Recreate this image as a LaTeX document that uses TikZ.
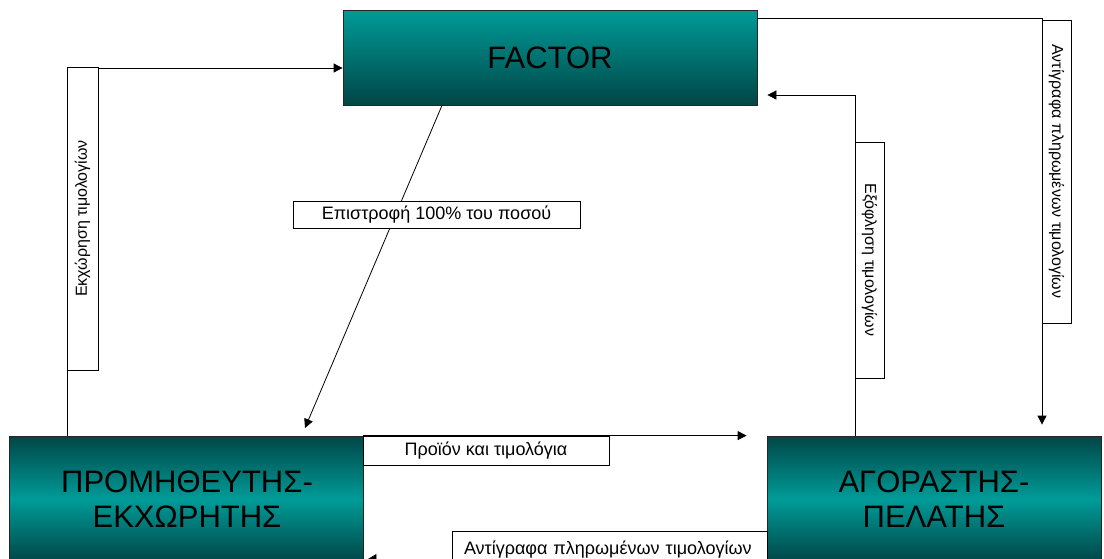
\documentclass[tikz,border=0pt]{standalone}
\usepackage{fontspec}
\setmainfont{Liberation Sans}
\usetikzlibrary{arrows.meta}
\definecolor{tealhi}{RGB}{0,155,152}
\definecolor{teallo}{RGB}{0,70,70}
\begin{document}
\begin{tikzpicture}[x=1pt,y=-1pt,
  party/.style={draw=black!85, line width=0.8pt, inner sep=0pt},
  bigtext/.style={font=\fontsize{31}{35}\selectfont, inner sep=0pt},
  lbl/.style={draw, fill=white, line width=0.6pt, inner sep=0pt,
    font=\fontsize{18}{21}\selectfont},
  vlbl/.style={lbl, font=\fontsize{16}{19}\selectfont},
  arr/.style={-{Triangle[length=9pt,width=9pt]}, line width=0.8pt},
]
\useasboundingbox (0,0) rectangle (1104,558);

% the three parties
\node[party, top color=tealhi, bottom color=teallo,
  minimum width=414pt, minimum height=95pt,
  font=\fontsize{31}{35}\selectfont] (factor) at (550,57.5) {FACTOR};
\node[party, top color=teallo, bottom color=teallo, middle color=tealhi,
  minimum width=354pt, minimum height=126pt] (sup) at (186,499) {};
\node[party, top color=teallo, bottom color=teallo, middle color=tealhi,
  minimum width=334pt, minimum height=126pt] (buy) at (934,499) {};
\node[bigtext, anchor=base] (supA) at (187,492) {ΠΡΟΜΗΘΕΥΤΗΣ-};
\node[bigtext, anchor=base] (supB) at (187,527) {ΕΚΧΩΡΗΤΗΣ};
\node[bigtext, anchor=base] (buyA) at (934,492) {ΑΓΟΡΑΣΤΗΣ-};
\node[bigtext, anchor=base] (buyB) at (934,527) {ΠΕΛΑΤΗΣ};

% bend points of the flows
\coordinate (c1) at (67,68);
\coordinate (c2) at (1042,18);
\coordinate (c3) at (855,95);
\coordinate (d0) at (442,105);
\coordinate (d1) at (305,428);
\coordinate (e)  at (0,560);

% flows
\draw[arr] (sup.north -| c1) -- (c1) -- (factor.west |- c1);
\draw[arr, shorten >=11pt] (factor.east |- c2) -- (c2) -- (buy.north -| c2);
\draw[arr, shorten >=10pt] (buy.north -| c3) -- (c3) -- (factor.east |- c3);
\draw[arr] (factor.south -| d0) -- (d1);
\draw[arr, shorten >=20pt] (sup.north east) -- (buy.north west);
\draw[-{Triangle[length=10pt,width=12pt]}, line width=0.8pt, shorten >=3pt]
  (buy.west |- e) -- (sup.east |- e);

% flow labels
\node[vlbl, rotate=90, minimum width=303pt, minimum height=31pt]
  (l1) at (82.5,218.5) {Εκχώρηση τιμολογίων};
\node[vlbl, rotate=-90, minimum width=236pt, minimum height=29pt]
  (l2) at (869.5,260) {Εξόφληση τιμολογίων};
\node[vlbl, rotate=-90, minimum width=303pt, minimum height=29pt]
  (l3) at (1056.5,171.5) {Αντίγραφα πληρωμένων τιμολογίων};
\node[lbl, minimum width=287pt, minimum height=27pt]
  (l4) at (436.5,214.5) {Επιστροφή 100\% του ποσού};
\node[lbl, minimum width=246pt, minimum height=29pt]
  (l5) at (486,450.5) {Προϊόν και τιμολόγια};
\node[lbl, inner xsep=0pt, text width=315pt, align=left, minimum height=38pt]
  (l6) at (609.5,550) {\hspace*{12pt}Αντίγραφα πληρωμένων τιμολογίων};
\end{tikzpicture}
\end{document}
